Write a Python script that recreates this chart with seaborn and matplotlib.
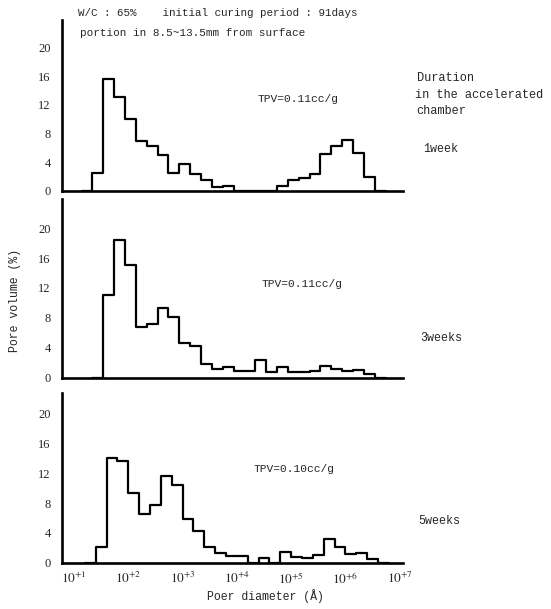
import numpy as np
import pandas as pd
import matplotlib
matplotlib.use("Agg")
import matplotlib.pyplot as plt
import seaborn as sns

sns.set_theme(style="white")
plt.rcParams['font.family'] = ['Liberation Mono', 'DejaVu Sans']
plt.rcParams['mathtext.fontset'] = 'stix'

# ---- data (log10 of pore diameter in Angstrom for bin edges, pore volume %) ----
durations = ["1week", "3weeks", "5weeks"]
tpv_labels = ["TPV=0.11cc/g", "TPV=0.11cc/g", "TPV=0.10cc/g"]

edges_1week = [1.34, 1.54, 1.74, 1.94, 2.14, 2.34, 2.54, 2.74, 2.94, 3.14, 3.34, 3.54, 3.74,
               3.94, 4.14, 4.34, 4.54, 4.74, 4.94, 5.14, 5.34, 5.54, 5.74, 5.94, 6.14, 6.34, 6.54]
vals_1week = [2.5, 15.6, 13.1, 10.0, 6.9, 6.25, 5.0, 2.5, 3.7, 2.3, 1.5, 0.5, 0.75,
              0.0, 0.0, 0.0, 0.0, 0.75, 1.6, 1.8, 2.4, 5.1, 6.2, 7.1, 5.3, 1.9]

edges_3weeks = [1.54, 1.74, 1.94, 2.14, 2.34, 2.54, 2.74, 2.94, 3.14, 3.34, 3.54, 3.74, 3.94,
                4.14, 4.34, 4.54, 4.74, 4.94, 5.14, 5.34, 5.54, 5.74, 5.94, 6.14, 6.34, 6.54]
vals_3weeks = [11.05, 18.4, 15.0, 6.8, 7.1, 9.3, 8.1, 4.6, 4.25, 1.8, 1.1, 1.4, 0.85,
               0.85, 2.4, 0.7, 1.4, 0.7, 0.7, 0.9, 1.6, 1.2, 0.85, 1.0, 0.5]

edges_5weeks = [1.40, 1.60, 1.80, 2.00, 2.20, 2.40, 2.60, 2.80, 3.00, 3.20, 3.40, 3.60, 3.80,
                4.00, 4.20, 4.40, 4.60, 4.80, 5.00, 5.20, 5.40, 5.60, 5.80, 6.00, 6.20, 6.40, 6.60]
vals_5weeks = [2.1, 14.05, 13.6, 9.3, 6.5, 7.8, 11.6, 10.4, 5.8, 4.2, 2.1, 1.3, 0.9,
               0.9, 0.0, 0.6, 0.0, 1.4, 0.75, 0.6, 1.0, 3.2, 2.1, 1.1, 1.3, 0.5]

y_ticks = [0, 4, 8, 12, 16, 20]
x_decades = [1, 2, 3, 4, 5, 6, 7]
x_ticklabels = [r'$10^{+%d}$' % d for d in x_decades]

panels = [(edges_1week, vals_1week), (edges_3weeks, vals_3weeks), (edges_5weeks, vals_5weeks)]

# ---- layout ----
W, H = 551, 609
fig = plt.figure(figsize=(W / 100, H / 100), dpi=100)
fig.patch.set_facecolor('white')

# (px of zero line, px of axis top, y value at axis top)
ax_geo = [(191, 20, 23.8), (377.5, 199, 23.9), (562.5, 393, 22.8)]
left_px, right_px = 62, 403
xlim = (0.78, 7.06)

axes = []
for i, ((edges, vals), (y0, ytop_px, ymax)) in enumerate(zip(panels, ax_geo)):
    ax = fig.add_axes([left_px / W, 1 - y0 / H, (right_px - left_px) / W, (y0 - ytop_px) / H])
    e = [float(x) for x in edges]
    w = e[1] - e[0]
    e2 = [e[0] - w] + e + [e[-1] + w]
    v2 = [0.0] + [float(x) for x in vals] + [0.0]
    df = pd.DataFrame({
        "logd": [(a + b) / 2 for a, b in zip(e2[:-1], e2[1:])],
        "vol": v2,
    })
    sns.histplot(data=df, x="logd", weights="vol", bins=e2, element='step', fill=False,
                 color='black', linewidth=1.6, ax=ax)
    ax.set_xlim(*xlim)
    ax.set_ylim(0, ymax)
    ax.set_ylabel('')
    ax.set_xlabel('')
    for s in ['top', 'right']:
        ax.spines[s].set_visible(False)
    for s in ['left', 'bottom']:
        ax.spines[s].set_color('black')
        ax.spines[s].set_linewidth(1.9)
    ax.set_yticks(y_ticks)
    ax.set_yticklabels([str(t) for t in y_ticks], family='Liberation Serif', fontsize=9)
    ax.set_xticks(x_decades)
    if i == 2:
        ax.set_xticklabels(x_ticklabels, fontsize=9.5)
    else:
        ax.set_xticklabels([])
    ax.tick_params(axis='both', direction='in', length=4, width=1.1, color='black', pad=8)
    ax.tick_params(axis='x', pad=6)
    ax.patch.set_alpha(0)
    ax.grid(False)
    axes.append(ax)

# ---- texts ----
def ftext(xp, yp, s, **kw):
    fig.text(xp / W, 1 - yp / H, s, **kw)

ftext(78, 13, "W/C : 65%    initial curing period : 91days", fontsize=7.8, va='center', ha='left')
ftext(80, 33, "portion in 8.5~13.5mm from surface", fontsize=7.9, va='center', ha='left')

ftext(417, 78, "Duration", fontsize=8.6, va='center', ha='left')
ftext(415, 95, "in the accelerated", fontsize=8.6, va='center', ha='left')
ftext(416, 111, "chamber", fontsize=8.6, va='center', ha='left')

label_pos = [(423, 149), (420, 338), (418, 521)]
for (xp, yp), s in zip(label_pos, durations):
    ftext(xp, yp, s, fontsize=8.4, va='center', ha='left')

tpv_pos = [(258, 99), (262, 284), (254, 469)]
for (xp, yp), s in zip(tpv_pos, tpv_labels):
    ftext(xp, yp, s, fontsize=8.1, va='center', ha='left')

ftext(15, 300, "Pore volume (%)", fontsize=8.3, va='center', ha='center', rotation=90)
ftext(265, 596, "Poer diameter (\u00c5)", fontsize=8.3, va='center', ha='center')

fig.savefig("out.png", dpi=100, facecolor='white')
